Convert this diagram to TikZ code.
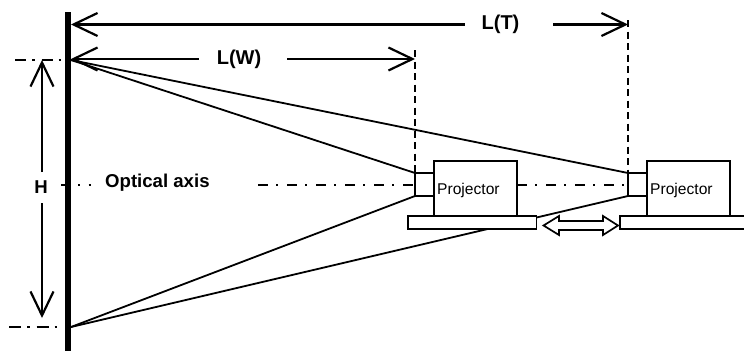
\documentclass[tikz,border=0pt]{standalone}
\usepackage{fontspec}
\setmainfont{Liberation Sans}
\usetikzlibrary{arrows.meta}
\tikzset{
  ln/.style={line width=1.8pt,black},
  dim/.style={line width=2.2pt,black},
  headend/.style={-{Straight Barb[length=24pt,width=23pt,line width=2.2pt]}},
  headstart/.style={{Straight Barb[length=24pt,width=23pt,line width=2.2pt]}-},
  guide/.style={line width=1.6pt,dash pattern=on 7pt off 4.5pt},
  axisline/.style={line width=2pt,dash pattern=on 10pt off 8pt on 2pt off 9pt},
  dashdot/.style={line width=2pt,dash pattern=on #1 off 6pt on 2.5pt off 7pt},
  boxed/.style={draw,line width=1.8pt,fill=white,inner sep=0pt,outer sep=0pt,minimum height=#1},
  lbl/.style={font=\bfseries\fontsize{20}{22}\selectfont,inner sep=0pt},
  lblsmall/.style={font=\bfseries\fontsize{18.6}{20}\selectfont,inner sep=0pt},
  ptext/.style={font=\fontsize{15.6}{17}\selectfont,inner sep=0pt}
}
\begin{document}
\begin{tikzpicture}[x=1pt,y=-1pt]
\useasboundingbox (0,0) rectangle (744,351);
% named points
\coordinate (top) at (71,60);
\coordinate (bot) at (71,327);
\coordinate (wt) at (71,24.5);
\coordinate (ww) at (71,59);
\coordinate (ltR) at (628,24.5);
\coordinate (lwR) at (415,59);
\coordinate (ltD) at (628,20);
\coordinate (lwD) at (415,50);
\coordinate (ltA) at (465,24.5);
\coordinate (ltB) at (553,24.5);
\coordinate (lwA) at (199,59);
\coordinate (lwB) at (287,59);
\coordinate (wallT) at (68,12);
\coordinate (wallB) at (68,351);
\coordinate (hT) at (42,60);
\coordinate (hA) at (42,172);
\coordinate (hB) at (42,203);
\coordinate (hE) at (42,318);
\coordinate (d1a) at (15,60);
\coordinate (d1b) at (66,60);
\coordinate (d2a) at (9,327);
\coordinate (d2b) at (60,327);
\coordinate (a0) at (61,185);
\coordinate (a1) at (67,185);
\coordinate (a2) at (78,185);
\coordinate (a3) at (80,185);
\coordinate (a4) at (88.500,185);
\coordinate (a5) at (90.500,185);
\coordinate (a6) at (258,185);
\coordinate (a7) at (415,185);
\coordinate (a8) at (517,185);
\coordinate (a9) at (628,185);
% nodes
\node[boxed=23pt,minimum width=19pt,anchor=north west] (lens1) at (415,173) {};
\node[boxed=23pt,minimum width=19pt,anchor=north west] (lens2) at (628,173) {};
% optical rays, behind the bases
\draw[ln] (top) -- (lens1.north west);
\draw[ln] (top) -- (lens2.north west);
\draw[ln] (bot) -- (lens1.south west);
\draw[ln] (bot) -- (lens2.south west);
% redraw bodies above rays
\node[boxed=55pt,minimum width=83pt,anchor=north west] (proj1) at (434,161) {};
\node[boxed=55pt,minimum width=83pt,anchor=north west] (proj2) at (647,161) {};
\node[boxed=13pt,minimum width=128.500pt,anchor=north west] (base1) at (408,216) {};
\node[boxed=13pt,minimum width=126pt,anchor=north west] (base2) at (620,216) {};
\node[ptext,anchor=west] (t1) at (437,190) {Projector};
\node[ptext,anchor=west] (t2) at (650,190) {Projector};
\node[lbl] (lt) at (500.500,24) {L(T)};
\node[lbl] (lw) at (239,59) {L(W)};
\node[lblsmall] (h) at (41,187) {H};
\node[lblsmall,anchor=west] (oa) at (105,183) {Optical axis};
% wall
\draw[line width=5.500pt] (wallT) -- (wallB);
% dimension lines
\draw[dim,headstart] (wt) -- (ltA);
\draw[dim,headend] (ltB) -- (ltR);
\draw[dim,headstart] (ww) -- (lwA);
\draw[dim,headend] (lwB) -- (lwR);
\draw[dim,headend] (hA) -- (hT);
\draw[dim,headend] (hB) -- (hE);
\draw[guide] (ltD) -- (lens2.north west);
\draw[guide] (lwD) -- (lens1.north west);
% dash-dot lines
\draw[dashdot=11pt] (d1a) -- (d1b);
\draw[dashdot=12pt] (d2a) -- (d2b);
\draw[line width=2pt] (a0) -- (a1);
\draw[line width=2pt] (a2) -- (a3);
\draw[line width=2pt] (a4) -- (a5);
\draw[axisline] (a6) -- (a7);
\draw[axisline] (a8) -- (a9);
% double arrow
\draw[line width=1.7pt,fill=white,line join=miter] (543.500,225.500) -- (559,216) -- (559,221) -- (603,221) -- (603,216) -- (618,225.500) -- (603,235) -- (603,230) -- (559,230) -- (559,235) -- cycle;
\end{tikzpicture}
\end{document}
